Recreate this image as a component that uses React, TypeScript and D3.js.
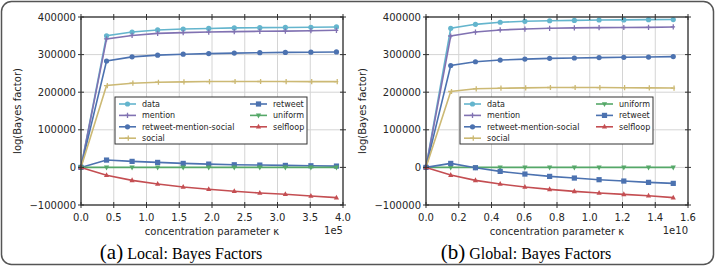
import * as d3 from "d3";

const localKappa = [0, 0.39, 0.78, 1.17, 1.56, 1.95, 2.34, 2.73, 3.12, 3.51, 3.9];
const globalKappa = [0, 0.151, 0.302, 0.453, 0.604, 0.755, 0.906, 1.057, 1.208, 1.359, 1.51];

const localData = [0, 350000, 360000, 365500, 368000, 369500, 371000, 371700, 372200, 372800, 373500];
const localMention = [0, 341600, 351000, 356500, 358500, 360000, 361000, 362000, 362500, 363500, 364600];
const localRMS = [0, 283000, 294000, 298500, 301000, 302600, 304000, 305000, 305800, 306400, 307000];
const localSocial = [0, 217700, 224000, 226500, 227500, 228300, 228400, 228400, 228300, 228200, 228000];
const localRetweet = [0, 19500, 16000, 13300, 10600, 8800, 7000, 6200, 5300, 4400, 3500];
const localUniform = [0, 0, 0, 0, 0, 0, 0, 0, 0, 0, 0];
const localSelfloop = [0, -21000, -34500, -44000, -52000, -58000, -63500, -68000, -71500, -76000, -80500];

const globalData = [0, 370000, 380500, 386000, 388500, 390000, 391000, 392000, 392300, 393000, 393200];
const globalMention = [0, 349500, 360000, 365500, 368000, 370000, 371000, 371700, 372100, 372500, 373500];
const globalRMS = [0, 271000, 281000, 285500, 288000, 290000, 291000, 292000, 292800, 293500, 294700];
const globalSocial = [0, 201800, 209000, 210600, 211500, 212500, 212500, 212300, 212000, 211500, 211000];
const globalUniform = [0, 0, 0, 0, 0, 0, 0, 0, 0, 0, 0];
const globalRetweet = [0, 10600, -900, -10600, -17700, -23900, -28300, -32700, -36300, -39800, -42500];
const globalSelfloop = [0, -20400, -34500, -44200, -52200, -58400, -63700, -68100, -71700, -75200, -80500];

const yTicks = [-100000, 0, 100000, 200000, 300000, 400000];
const localXTicks = [0, 0.5, 1, 1.5, 2, 2.5, 3, 3.5, 4];
const globalXTicks = [0, 0.2, 0.4, 0.6, 0.8, 1.0, 1.2, 1.4, 1.6];

type Series = { name: string; color: string; marker: string; values: number[] };

const localSeries: Series[] = [
  { name: "data", color: "#64b5cd", marker: "circle", values: localData },
  { name: "mention", color: "#8172b2", marker: "trileft", values: localMention },
  { name: "retweet-mention-social", color: "#4c72b0", marker: "circle", values: localRMS },
  { name: "social", color: "#ccb974", marker: "triright", values: localSocial },
  { name: "retweet", color: "#4c72b0", marker: "square", values: localRetweet },
  { name: "uniform", color: "#55a868", marker: "tridown", values: localUniform },
  { name: "selfloop", color: "#c44e52", marker: "triup", values: localSelfloop },
];

const globalSeries: Series[] = [
  { name: "data", color: "#64b5cd", marker: "circle", values: globalData },
  { name: "mention", color: "#8172b2", marker: "trileft", values: globalMention },
  { name: "retweet-mention-social", color: "#4c72b0", marker: "circle", values: globalRMS },
  { name: "social", color: "#ccb974", marker: "triright", values: globalSocial },
  { name: "uniform", color: "#55a868", marker: "tridown", values: globalUniform },
  { name: "retweet", color: "#4c72b0", marker: "square", values: globalRetweet },
  { name: "selfloop", color: "#c44e52", marker: "triup", values: globalSelfloop },
];

const FONT = "DejaVu Sans";
const TXT = "#262626";

function Marker({ x, y, kind, color }: { x: number; y: number; kind: string; color: string }) {
  const r = 2.6;
  if (kind === "circle") return <circle cx={x} cy={y} r={r} fill={color} />;
  if (kind === "square") return <rect x={x - r} y={y - r} width={2 * r} height={2 * r} fill={color} />;
  if (kind === "triup")
    return <path d={`M${x},${y - r - 0.4}L${x + r},${y + r * 0.7}L${x - r},${y + r * 0.7}Z`} fill={color} />;
  if (kind === "tridown")
    return <path d={`M${x},${y + r + 0.4}L${x + r},${y - r * 0.7}L${x - r},${y - r * 0.7}Z`} fill={color} />;
  if (kind === "trileft")
    return (
      <path d={`M${x - r},${y}L${x + r * 0.7},${y}M${x},${y - r}L${x},${y + r}`} stroke={color} strokeWidth={1.3} fill="none" />
    );
  return (
    <path d={`M${x - r},${y}L${x + r * 0.7},${y}M${x + r * 0.3},${y - r}L${x + r * 0.3},${y + r}`} stroke={color} strokeWidth={1.3} fill="none" />
  );
}

function Panel({
  left,
  kappa,
  series,
  xTicks,
  xMax,
  offset,
  letter,
  title,
  captionX,
  legendBox,
  col2Names,
}: {
  left: number;
  kappa: number[];
  series: Series[];
  xTicks: number[];
  xMax: number;
  offset: string;
  letter: string;
  title: string;
  captionX: number;
  legendBox: { x: number; w: number; col2: number };
  col2Names: string[];
}) {
  const width = 262;
  const top = 17;
  const bottom = 205;
  const x = d3.scaleLinear().domain([0, xMax]).range([left, left + width]);
  const y = d3.scaleLinear().domain([-100000, 400000]).range([bottom, top]);
  const line = d3
    .line<number>()
    .x((_, i) => x(kappa[i]))
    .y((d) => y(d));
  const col1 = series.filter((s) => !col2Names.includes(s.name));
  const col2 = col2Names.map((n) => series.find((s) => s.name === n)!);
  const legTop = 97;
  const rowH = 11.4;
  return (
    <g>
      {xTicks.map((t) => (
        <line key={"gx" + t} x1={x(t)} x2={x(t)} y1={top} y2={bottom} stroke="#d4d4d4" strokeWidth={1} />
      ))}
      {yTicks.map((t) => (
        <line key={"gy" + t} x1={left} x2={left + width} y1={y(t)} y2={y(t)} stroke="#d4d4d4" strokeWidth={1} />
      ))}
      {series.map((s) => (
        <g key={s.name}>
          <path d={line(s.values) || ""} fill="none" stroke={s.color} strokeWidth={1.6} />
          {s.values.map((v, i) => (
            <Marker key={i} x={x(kappa[i])} y={y(v)} kind={s.marker} color={s.color} />
          ))}
        </g>
      ))}
      <rect x={left} y={top} width={width} height={bottom - top} fill="none" stroke="#333" strokeWidth={1.3} />
      {xTicks.map((t) => (
        <g key={"tx" + t}>
          <line x1={x(t)} x2={x(t)} y1={bottom - 3} y2={bottom + 3} stroke="#333" strokeWidth={1} />
          <line x1={x(t)} x2={x(t)} y1={top - 3} y2={top + 3} stroke="#333" strokeWidth={1} />
          <text x={x(t)} y={bottom + 16} textAnchor="middle" fontFamily={FONT} fontSize={10} fill={TXT}>
            {t.toFixed(1)}
          </text>
        </g>
      ))}
      {yTicks.map((t) => (
        <g key={"ty" + t}>
          <line x1={left - 3} x2={left + 3} y1={y(t)} y2={y(t)} stroke="#333" strokeWidth={1} />
          <line x1={left + width - 3} x2={left + width + 3} y1={y(t)} y2={y(t)} stroke="#333" strokeWidth={1} />
          <text x={left - 5} y={y(t) + 3.6} textAnchor="end" fontFamily={FONT} fontSize={10} fill={TXT}>
            {t < 0 ? "\u2212" + Math.abs(t) : String(t)}
          </text>
        </g>
      ))}
      <text x={left + width} y={bottom + 29} textAnchor="end" fontFamily={FONT} fontSize={10} fill={TXT}>
        {offset}
      </text>
      <text x={left + width / 2} y={bottom + 30} textAnchor="middle" fontFamily={FONT} fontSize={10} fill={TXT}>
        concentration parameter κ
      </text>
      <text
        transform={`translate(${left - 60},${(top + bottom) / 2}) rotate(-90)`}
        textAnchor="middle"
        fontFamily={FONT}
        fontSize={10}
        fill={TXT}
      >
        log(Bayes factor)
      </text>
      <rect x={legendBox.x} y={legTop} width={legendBox.w} height={47} fill="#fff" stroke="#333" strokeWidth={1} />
      {[col1, col2].map((col, ci) =>
        col.map((s, ri) => {
          const lx = ci === 0 ? legendBox.x + 4 : legendBox.col2;
          const ly = legTop + 7 + ri * rowH;
          return (
            <g key={s.name}>
              <line x1={lx} x2={lx + 17} y1={ly} y2={ly} stroke={s.color} strokeWidth={1.6} />
              <Marker x={lx + 8.5} y={ly} kind={s.marker} color={s.color} />
              <text x={lx + 23} y={ly + 3} fontFamily={FONT} fontSize={8} fill={TXT}>
                {s.name}
              </text>
            </g>
          );
        })
      )}
      <text x={captionX} y={259} textAnchor="middle" fontFamily="Liberation Serif" fill="#000">
        <tspan fontSize={21}>({letter})</tspan>
        <tspan fontSize={16}> {title}</tspan>
      </text>
    </g>
  );
}

export default function App() {
  return (
    <svg
      width={716}
      height={266}
      style={{ position: "absolute", left: 0, top: 0, background: "#fff" }}
    >
      <rect x={1.5} y={1.5} width={712} height={263} rx={10} fill="#fff" stroke="#555" strokeWidth={1.5} />
      <Panel
        left={81}
        kappa={localKappa}
        series={localSeries}
        xTicks={localXTicks}
        xMax={4}
        offset="1e5"
        letter="a"
        title="Local: Bayes Factors"
        captionX={181}
        legendBox={{ x: 115, w: 192, col2: 250 }}
        col2Names={["retweet", "uniform", "selfloop"]}
      />
      <Panel
        left={426}
        kappa={globalKappa}
        series={globalSeries}
        xTicks={globalXTicks}
        xMax={1.6}
        offset="1e10"
        letter="b"
        title="Global: Bayes Factors"
        captionX={526}
        legendBox={{ x: 460, w: 193, col2: 596 }}
        col2Names={["uniform", "retweet", "selfloop"]}
      />
    </svg>
  );
}
